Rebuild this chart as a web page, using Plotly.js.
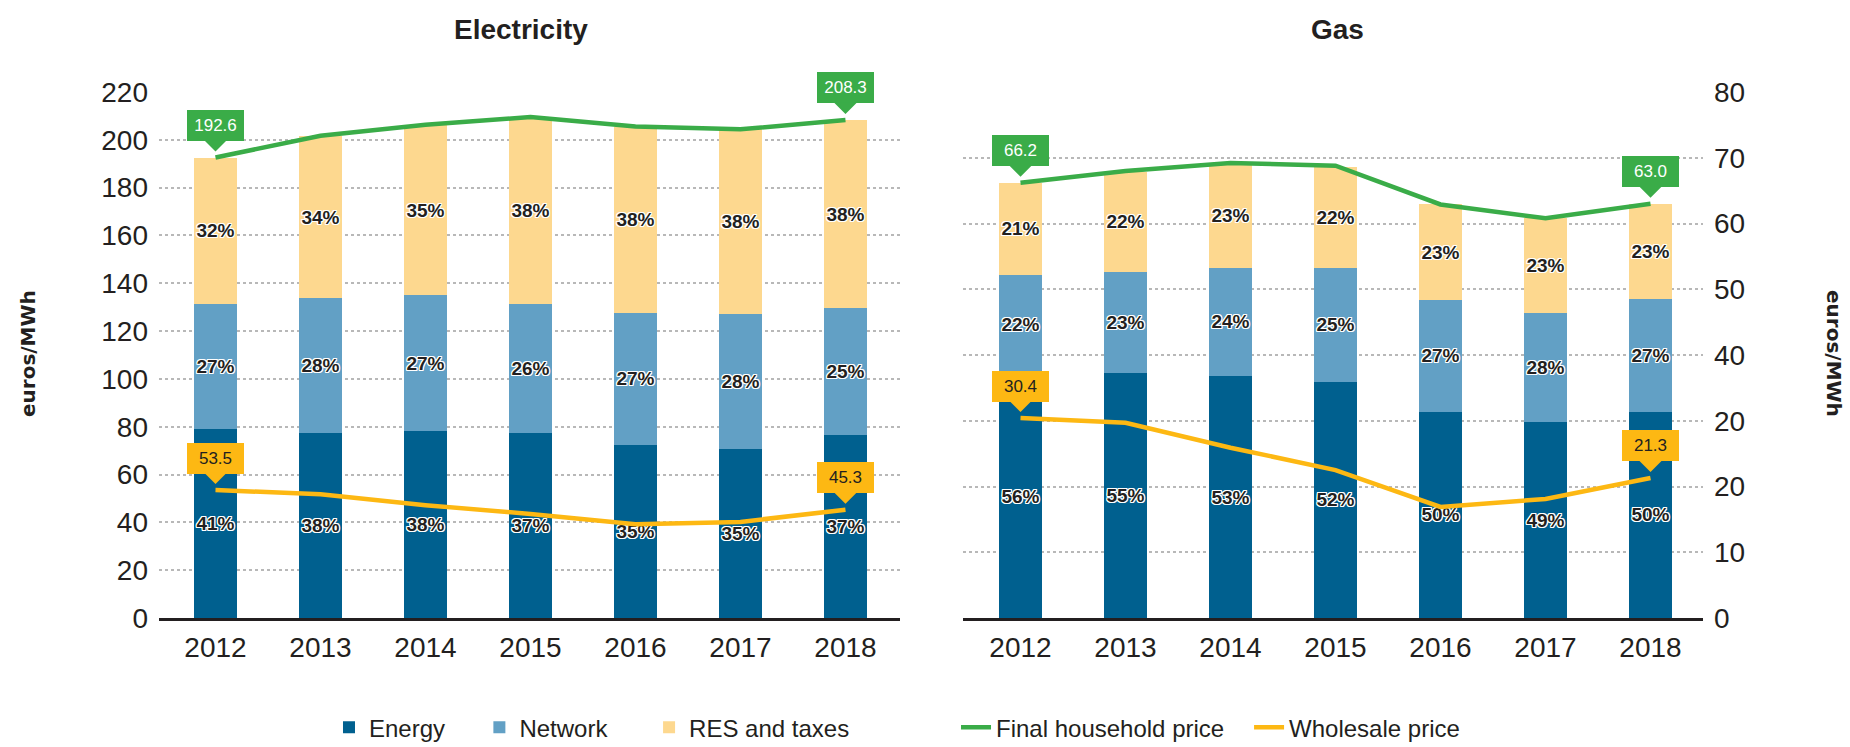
<!DOCTYPE html>
<html>
<head>
<meta charset="utf-8">
<script src="https://cdn.plot.ly/plotly-3.0.1.min.js"></script>
<style>
  html, body { margin: 0; padding: 0; background: #ffffff; }
  #chart { width: 1850px; height: 747px; }
</style>
</head>
<body>
<div id="chart"></div>
<script>
// ---------- data ----------
const years = ['2012', '2013', '2014', '2015', '2016', '2017', '2018'];

const elecEnergy    = [79.0, 77.3, 78.4, 77.3, 72.4, 70.7, 76.6];
const elecNetwork   = [52.3, 56.4, 56.5, 54.0, 55.3, 56.4, 52.9];
const elecRes       = [61.3, 67.8, 71.3, 78.0, 77.7, 77.3, 78.8];
const elecFinal     = [192.6, 201.7, 206.3, 209.5, 205.6, 204.4, 208.3];
const elecWholesale = [53.5, 51.8, 47.2, 43.5, 39.2, 40.2, 45.3];

const elecEnergyPct  = ['41%', '38%', '38%', '37%', '35%', '35%', '37%'];
const elecNetworkPct = ['27%', '28%', '27%', '26%', '27%', '28%', '25%'];
const elecResPct     = ['32%', '34%', '35%', '38%', '38%', '38%', '38%'];

const gasEnergy    = [37.1, 37.2, 36.8, 35.9, 31.4, 29.8, 31.4];
const gasNetwork   = [15.1, 15.5, 16.5, 17.4, 17.0, 16.6, 17.1];
const gasRes       = [14.0, 15.2, 15.8, 15.3, 14.5, 14.5, 14.5];
const gasFinal     = [66.2, 68.0, 69.2, 68.8, 62.9, 60.8, 63.0];
const gasWholesale = [30.4, 29.7, 25.9, 22.5, 16.9, 18.1, 21.3];

const gasEnergyPct  = ['56%', '55%', '53%', '52%', '50%', '49%', '50%'];
const gasNetworkPct = ['22%', '23%', '24%', '25%', '27%', '28%', '27%'];
const gasResPct     = ['21%', '22%', '23%', '22%', '23%', '23%', '23%'];

const elecTickVals = [0, 20, 40, 60, 80, 100, 120, 140, 160, 180, 200, 220];
const gasTickVals  = [0, 10, 20, 30, 40, 50, 60, 70, 80];
const gasTickText  = ['0', '10', '20', '20', '40', '50', '60', '70', '80'];

const seriesNames = ['Energy', 'Network', 'RES and taxes', 'Final household price', 'Wholesale price'];
const panelTitles = ['Electricity', 'Gas'];
const unitLabel = 'euros/MWh';

// ---------- style ----------
const SANS = '"Liberation Sans", Arial, Helvetica, sans-serif';
const C_ENERGY = '#00608f';
const C_NETWORK = '#62a0c5';
const C_RES = '#fdd88f';
const C_FINAL = '#3aac48';
const C_WHOLE = '#fdb813';
const TXT = '#231f20';
const OUTLINE = '-1px -1px 0 #fff, 1px -1px 0 #fff, -1px 1px 0 #fff, 1px 1px 0 #fff, 0 -1px 0 #fff, 0 1px 0 #fff, -1px 0 0 #fff, 1px 0 0 #fff';

function barTrace(name, y, pct, color, xa, ya, show, leg) {
  return {
    type: 'bar', name: name, x: years, y: y, xaxis: xa, yaxis: ya,
    marker: { color: color, line: { width: 0 } },
    text: pct, textposition: 'inside', insidetextanchor: 'middle', textangle: 0,
    constraintext: 'none',
    textfont: { family: SANS, size: 19, weight: 'bold', color: TXT, shadow: OUTLINE },
    legendgroup: name, showlegend: show, legend: leg, hoverinfo: 'x+y+name'
  };
}
function lineTrace(name, y, color, xa, ya, show, leg) {
  return {
    type: 'scatter', mode: 'lines', name: name, x: years, y: y, xaxis: xa, yaxis: ya,
    line: { color: color, width: 4.5 },
    legendgroup: name, showlegend: show, legend: leg, hoverinfo: 'x+y+name'
  };
}

const traces = [
  barTrace(seriesNames[0], elecEnergy, elecEnergyPct, C_ENERGY, 'x', 'y', true, 'legend'),
  barTrace(seriesNames[1], elecNetwork, elecNetworkPct, C_NETWORK, 'x', 'y', true, 'legend2'),
  barTrace(seriesNames[2], elecRes, elecResPct, C_RES, 'x', 'y', true, 'legend3'),
  barTrace(seriesNames[0], gasEnergy, gasEnergyPct, C_ENERGY, 'x2', 'y2', false, 'legend'),
  barTrace(seriesNames[1], gasNetwork, gasNetworkPct, C_NETWORK, 'x2', 'y2', false, 'legend2'),
  barTrace(seriesNames[2], gasRes, gasResPct, C_RES, 'x2', 'y2', false, 'legend3'),
  lineTrace(seriesNames[3], elecFinal, C_FINAL, 'x', 'y', true, 'legend4'),
  lineTrace(seriesNames[4], elecWholesale, C_WHOLE, 'x', 'y', true, 'legend5'),
  lineTrace(seriesNames[3], gasFinal, C_FINAL, 'x2', 'y2', false, 'legend4'),
  lineTrace(seriesNames[4], gasWholesale, C_WHOLE, 'x2', 'y2', false, 'legend5')
];

// callout label above the first / last point of a price line
function callout(xa, ya, xi, values, bg, fg) {
  return {
    xref: xa, yref: ya, x: xi, y: values[xi],
    text: values[xi].toFixed(1),
    showarrow: true, ax: 0, ay: -32,
    arrowhead: 1, arrowsize: 1.5, arrowwidth: 2.5, arrowcolor: bg, standoff: 6,
    bgcolor: bg, borderwidth: 0, borderpad: 1,
    width: 55, height: 29,
    font: { family: SANS, size: 17, color: fg }
  };
}
const last = years.length - 1;

const annotations = [
  callout('x', 'y', 0, elecFinal, C_FINAL, '#ffffff'),
  callout('x', 'y', last, elecFinal, C_FINAL, '#ffffff'),
  callout('x', 'y', 0, elecWholesale, C_WHOLE, TXT),
  callout('x', 'y', last, elecWholesale, C_WHOLE, TXT),
  callout('x2', 'y2', 0, gasFinal, C_FINAL, '#ffffff'),
  callout('x2', 'y2', last, gasFinal, C_FINAL, '#ffffff'),
  callout('x2', 'y2', 0, gasWholesale, C_WHOLE, TXT),
  callout('x2', 'y2', last, gasWholesale, C_WHOLE, TXT),
  { xref: 'paper', yref: 'paper', x: 0.2345, y: 1.118, xanchor: 'center', yanchor: 'middle',
    text: '<b>' + panelTitles[0] + '</b>', showarrow: false,
    font: { family: SANS, size: 28, color: TXT } },
  { xref: 'paper', yref: 'paper', x: 0.763, y: 1.118, xanchor: 'center', yanchor: 'middle',
    text: '<b>' + panelTitles[1] + '</b>', showarrow: false,
    font: { family: SANS, size: 28, color: TXT } },
  { xref: 'paper', yref: 'paper', x: -0.0848, y: 0.502, xanchor: 'center', yanchor: 'middle',
    text: '<b>' + unitLabel + '</b>', showarrow: false, textangle: -90,
    font: { family: '"DejaVu Sans", Arial, sans-serif', size: 20, color: TXT } },
  { xref: 'paper', yref: 'paper', x: 1.0848, y: 0.502, xanchor: 'center', yanchor: 'middle',
    text: '<b>' + unitLabel + '</b>', showarrow: false, textangle: 90,
    font: { family: '"DejaVu Sans", Arial, sans-serif', size: 20, color: TXT } }
];

const tickFont = { family: SANS, size: 28, color: TXT };
const gridStyle = { showgrid: true, gridcolor: '#b8b8b8', gridwidth: 2, griddash: 'dot', zeroline: false };

function legendAt(x) {
  return {
    orientation: 'h', x: x, y: -0.2085, xanchor: 'left', yanchor: 'middle',
    bgcolor: 'rgba(0,0,0,0)', borderwidth: 0,
    font: { family: SANS, size: 24, color: TXT }
  };
}

const layout = {
  width: 1850, height: 747,
  margin: { l: 159, r: 147, t: 92, b: 129, autoexpand: false },
  paper_bgcolor: '#ffffff', plot_bgcolor: '#ffffff',
  barmode: 'stack', bargap: 0.59,
  font: { family: SANS, color: TXT },
  showlegend: true,
  xaxis: {
    domain: [0, 0.4799], anchor: 'y', type: 'category', range: [-0.538, 6.519],
    showline: true, linecolor: TXT, linewidth: 3, ticks: '', showgrid: false, zeroline: false,
    tickfont: tickFont, ticklabelstandoff: 2, fixedrange: true
  },
  yaxis: Object.assign({
    anchor: 'x', range: [0, 220], tickvals: elecTickVals, ticks: '', showline: false,
    tickfont: tickFont, ticklabelstandoff: 10, fixedrange: true
  }, gridStyle),
  xaxis2: {
    domain: [0.5207, 1], anchor: 'y2', type: 'category', range: [-0.548, 6.5],
    showline: true, linecolor: TXT, linewidth: 3, ticks: '', showgrid: false, zeroline: false,
    tickfont: tickFont, ticklabelstandoff: 2, fixedrange: true
  },
  yaxis2: Object.assign({
    anchor: 'x2', side: 'right', range: [0, 80], tickvals: gasTickVals, ticktext: gasTickText,
    ticks: '', showline: false, tickfont: tickFont, ticklabelstandoff: 10, fixedrange: true
  }, gridStyle),
  legend: legendAt(0.1101),
  legend2: legendAt(0.2075),
  legend3: legendAt(0.3174),
  legend4: legendAt(0.5162),
  legend5: legendAt(0.7060),
  annotations: annotations
};

Plotly.newPlot('chart', traces, layout, { displayModeBar: false, staticPlot: true });
</script>
</body>
</html>
